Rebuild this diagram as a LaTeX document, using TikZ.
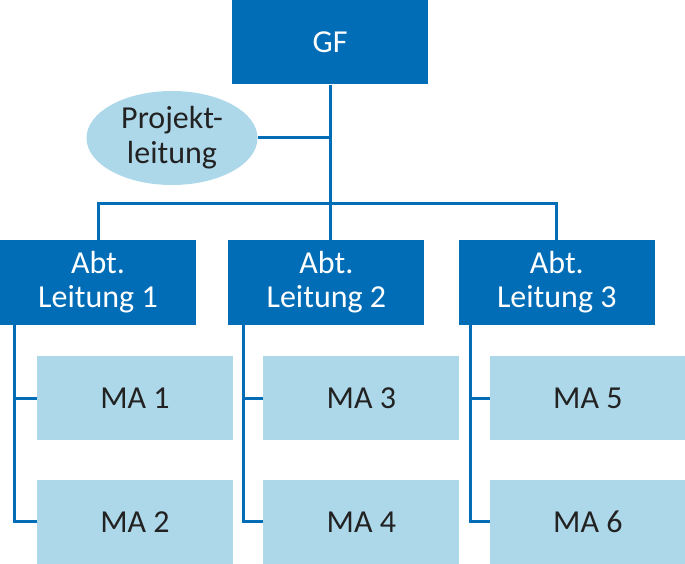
\documentclass[tikz,border=0pt]{standalone}
\usepackage{fontspec}
\setmainfont{Carlito}
\usetikzlibrary{shapes.geometric,positioning}
\definecolor{chiefblue}{HTML}{006DB6}
\definecolor{staffblue}{HTML}{ADD8EA}
\definecolor{inkgray}{HTML}{222222}

\begin{document}
\begin{tikzpicture}[
  x=1pt, y=-1pt,
  lead/.style={fill=chiefblue, text=white, align=center, inner sep=0pt,
    minimum width=196pt, minimum height=85pt,
    font=\fontsize{32}{34}\selectfont},
  staff/.style={fill=staffblue, text=inkgray, align=center, inner sep=0pt,
    minimum width=196pt, minimum height=84pt,
    font=\fontsize{32}{34}\selectfont},
  oval/.style={ellipse, fill=staffblue, text=inkgray, align=center, inner sep=0pt,
    minimum width=171pt, minimum height=94pt,
    font=\fontsize{32}{35}\selectfont},
  link/.style={draw=chiefblue, line width=3pt}
]
\useasboundingbox (0,0) rectangle (685,564);

\node[lead] (gf) at (330,42) {GF};
\node[oval] (pl) at (172,138) {Projekt-\\leitung};
\node[lead] (abt1) at (98,282.5) {Abt.\\Leitung 1};
\node[lead, right=32pt of abt1] (abt2) {Abt.\\Leitung 2};
\node[lead, right=34pt of abt2] (abt3) {Abt.\\Leitung 3};
\node[staff, below=31pt of abt1, xshift=37pt] (ma1) {MA 1};
\node[staff, below=39pt of ma1] (ma2) {MA 2};
\node[staff, below=31pt of abt2, xshift=35pt] (ma3) {MA 3};
\node[staff, below=39pt of ma3] (ma4) {MA 4};
\node[staff, below=31pt of abt3, xshift=31pt] (ma5) {MA 5};
\node[staff, below=39pt of ma5] (ma6) {MA 6};

\coordinate (hub) at (330,204);
\coordinate (s1) at ([xshift=15pt]abt1.south west);
\coordinate (s2) at ([xshift=15pt]abt2.south west);
\coordinate (s3) at ([xshift=12pt]abt3.south west);

\draw[link] (gf) -- (hub);
\draw[link] (pl.east) -- (pl.east -| gf.south);
\draw[link] (abt1.north) |- (hub) -| (abt3.north);
\draw[link] (hub) -- (hub |- abt2.north);
\draw[link] (s1) |- (ma2.west);
\draw[link] (ma1.west) -- (ma1.west -| s1);
\draw[link] (s2) |- (ma4.west);
\draw[link] (ma3.west) -- (ma3.west -| s2);
\draw[link] (s3) |- (ma6.west);
\draw[link] (ma5.west) -- (ma5.west -| s3);
\end{tikzpicture}
\end{document}
